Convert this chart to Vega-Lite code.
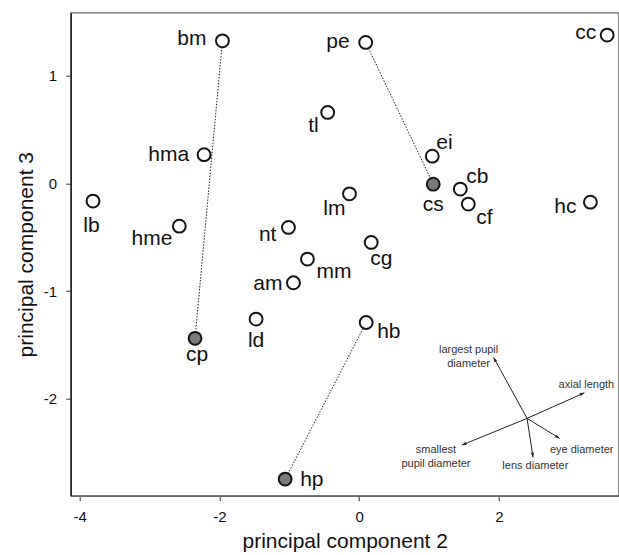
{
  "$schema": "https://vega.github.io/schema/vega-lite/v6.json",
  "width": 548,
  "height": 483,
  "autosize": {"type": "none"},
  "padding": {"left": 70.7, "top": 12.7, "right": 0.3, "bottom": 59.3},
  "background": "white",
  "config": {
    "font": "Liberation Sans",
    "view": {"stroke": "#666", "strokeWidth": 1.3},
    "axis": {
      "grid": false,
      "labelFont": "Liberation Sans",
      "titleFont": "Liberation Sans",
      "labelFontSize": 15,
      "titleFontSize": 21,
      "titleFontWeight": "normal",
      "labelColor": "#111",
      "titleColor": "#111",
      "tickColor": "#333",
      "tickSize": 5,
      "labelPadding": 9,
      "labelExpr": "'' + datum.value"
    },
    "axisX": {"domainColor": "#666", "domainWidth": 1.5, "titlePadding": 6},
    "axisY": {"domainColor": "#111", "domainWidth": 1.3, "titlePadding": 7}
  },
  "datasets": {
    "pts": [
      {"name": "bm", "pc2": -1.958, "pc3": 1.324, "set": "1", "pair": "A"},
      {"name": "pe", "pc2": 0.093, "pc3": 1.309, "set": "1", "pair": "B"},
      {"name": "cc", "pc2": 3.55, "pc3": 1.377, "set": "1"},
      {"name": "tl", "pc2": -0.451, "pc3": 0.659, "set": "1"},
      {"name": "hma", "pc2": -2.22, "pc3": 0.267, "set": "1"},
      {"name": "ei", "pc2": 1.046, "pc3": 0.253, "set": "1"},
      {"name": "cs", "pc2": 1.06, "pc3": -0.007, "set": "2", "pair": "B"},
      {"name": "cb", "pc2": 1.447, "pc3": -0.053, "set": "1"},
      {"name": "cf", "pc2": 1.562, "pc3": -0.192, "set": "1"},
      {"name": "hc", "pc2": 3.31, "pc3": -0.174, "set": "1"},
      {"name": "lb", "pc2": -3.811, "pc3": -0.164, "set": "1"},
      {"name": "lm", "pc2": -0.139, "pc3": -0.097, "set": "1"},
      {"name": "hme", "pc2": -2.575, "pc3": -0.397, "set": "1"},
      {"name": "nt", "pc2": -1.013, "pc3": -0.409, "set": "1"},
      {"name": "cg", "pc2": 0.172, "pc3": -0.548, "set": "1"},
      {"name": "mm", "pc2": -0.741, "pc3": -0.703, "set": "1"},
      {"name": "am", "pc2": -0.941, "pc3": -0.923, "set": "1"},
      {"name": "ld", "pc2": -1.476, "pc3": -1.26, "set": "1"},
      {"name": "hb", "pc2": 0.1, "pc3": -1.292, "set": "1", "pair": "C"},
      {"name": "cp", "pc2": -2.35, "pc3": -1.439, "set": "2", "pair": "A"},
      {"name": "hp", "pc2": -1.06, "pc3": -2.746, "set": "2", "pair": "C"}
    ],
    "arrows": [
      {"var": "axial length", "label": "axial length", "cx": 2.403, "cy": -2.182, "tx": 3.224, "ty": -1.945},
      {"var": "largest pupil diameter", "label": "largest pupil\ndiameter", "cx": 2.403, "cy": -2.182, "tx": 1.924, "ty": -1.616},
      {"var": "smallest pupil diameter", "label": "smallest\npupil diameter", "cx": 2.403, "cy": -2.182, "tx": 1.471, "ty": -2.43},
      {"var": "lens diameter", "label": "lens diameter", "cx": 2.403, "cy": -2.182, "tx": 2.489, "ty": -2.544},
      {"var": "eye diameter", "label": "eye diameter", "cx": 2.403, "cy": -2.182, "tx": 2.87, "ty": -2.368}
    ]
  },
  "layer": [
    {
      "data": {"name": "pts"},
      "transform": [{"filter": "isValid(datum.pair)"}],
      "mark": {"type": "line", "color": "#222", "strokeWidth": 1, "strokeDash": [1.5, 1.5]},
      "encoding": {
        "x": {"field": "pc2", "type": "quantitative", "title": "principal component 2", "scale": {"domain": [-4.13, 3.715], "nice": false, "zero": false}, "axis": {"values": [-4, -2, 0, 2]}},
        "y": {"field": "pc3", "type": "quantitative", "title": "principal component 3", "scale": {"domain": [-2.9, 1.585], "nice": false, "zero": false}, "axis": {"values": [-2, -1, 0, 1]}},
        "detail": {"field": "pair"}
      }
    },
    {
      "data": {"name": "arrows"},
      "mark": {"type": "rule", "color": "#222", "strokeWidth": 1},
      "encoding": {
        "x": {"field": "cx", "type": "quantitative", "title": "principal component 2", "scale": {"domain": [-4.13, 3.715], "nice": false, "zero": false}},
        "x2": {"field": "tx", "title": "principal component 2"},
        "y": {"field": "cy", "type": "quantitative", "title": "principal component 3", "scale": {"domain": [-2.9, 1.585], "nice": false, "zero": false}},
        "y2": {"field": "ty", "title": "principal component 3"}
      }
    },
    {
      "data": {"name": "arrows"},
      "encoding": {
        "x": {"field": "tx", "type": "quantitative", "title": "principal component 2", "scale": {"domain": [-4.13, 3.715], "nice": false, "zero": false}},
        "y": {"field": "ty", "type": "quantitative", "title": "principal component 3", "scale": {"domain": [-2.9, 1.585], "nice": false, "zero": false}},
        "text": {"field": "label"}
      },
      "layer": [
        {"transform": [{"filter": "datum.var == 'axial length'"}], "mark": {"type": "point", "shape": "M0,0L-0.45,1.3L0.45,1.3Z", "filled": true, "color": "#222", "opacity": 1, "size": 50, "angle": 67.9}},
        {"transform": [{"filter": "datum.var == 'largest pupil diameter'"}], "mark": {"type": "point", "shape": "M0,0L-0.45,1.3L0.45,1.3Z", "filled": true, "color": "#222", "opacity": 1, "size": 50, "angle": 331.3}},
        {"transform": [{"filter": "datum.var == 'smallest pupil diameter'"}], "mark": {"type": "point", "shape": "M0,0L-0.45,1.3L0.45,1.3Z", "filled": true, "color": "#222", "opacity": 1, "size": 50, "angle": 247.7}},
        {"transform": [{"filter": "datum.var == 'lens diameter'"}], "mark": {"type": "point", "shape": "M0,0L-0.45,1.3L0.45,1.3Z", "filled": true, "color": "#222", "opacity": 1, "size": 50, "angle": 171.3}},
        {"transform": [{"filter": "datum.var == 'eye diameter'"}], "mark": {"type": "point", "shape": "M0,0L-0.45,1.3L0.45,1.3Z", "filled": true, "color": "#222", "opacity": 1, "size": 50, "angle": 121.5}},
        {"transform": [{"filter": "datum.var == 'axial length'"}], "mark": {"type": "text", "fontSize": 11, "color": "#333", "align": "center", "baseline": "middle", "dx": 2, "dy": -7.5}},
        {"transform": [{"filter": "datum.var == 'largest pupil diameter'"}], "mark": {"type": "text", "fontSize": 11, "color": "#333", "align": "center", "baseline": "middle", "lineBreak": "\n", "lineHeight": 14, "dx": -25, "dy": -7.6}},
        {"transform": [{"filter": "datum.var == 'smallest pupil diameter'"}], "mark": {"type": "text", "fontSize": 11, "color": "#333", "align": "center", "baseline": "middle", "lineBreak": "\n", "lineHeight": 14, "dx": -26, "dy": 4.7}},
        {"transform": [{"filter": "datum.var == 'lens diameter'"}], "mark": {"type": "text", "fontSize": 11, "color": "#333", "align": "center", "baseline": "middle", "dx": 2.3, "dy": 8.5}},
        {"transform": [{"filter": "datum.var == 'eye diameter'"}], "mark": {"type": "text", "fontSize": 11, "color": "#333", "align": "center", "baseline": "middle", "dx": 22, "dy": 11.4}}
      ]
    },
    {
      "data": {"name": "pts"},
      "mark": {"type": "point", "filled": true, "opacity": 1, "stroke": "#151515", "strokeWidth": 2, "size": 165},
      "encoding": {
        "x": {"field": "pc2", "type": "quantitative", "title": "principal component 2", "scale": {"domain": [-4.13, 3.715], "nice": false, "zero": false}},
        "y": {"field": "pc3", "type": "quantitative", "title": "principal component 3", "scale": {"domain": [-2.9, 1.585], "nice": false, "zero": false}},
        "fill": {"field": "set", "type": "nominal", "scale": {"domain": ["1", "2"], "range": ["#ffffff", "#7a7a7a"]}, "legend": null}
      }
    },
    {
      "data": {"name": "pts"},
      "encoding": {
        "x": {"field": "pc2", "type": "quantitative", "title": "principal component 2", "scale": {"domain": [-4.13, 3.715], "nice": false, "zero": false}},
        "y": {"field": "pc3", "type": "quantitative", "title": "principal component 3", "scale": {"domain": [-2.9, 1.585], "nice": false, "zero": false}},
        "text": {"field": "name"}
      },
      "layer": [
        {"transform": [{"filter": "datum.name == 'bm'"}], "mark": {"type": "text", "fontSize": 21, "color": "#111", "baseline": "alphabetic", "align": "right", "dx": -16, "dy": 4}},
        {"transform": [{"filter": "datum.name == 'pe'"}], "mark": {"type": "text", "fontSize": 21, "color": "#111", "baseline": "alphabetic", "align": "right", "dx": -16, "dy": 6}},
        {"transform": [{"filter": "datum.name == 'cc'"}], "mark": {"type": "text", "fontSize": 21, "color": "#111", "baseline": "alphabetic", "align": "right", "dx": -11, "dy": 4}},
        {"transform": [{"filter": "datum.name == 'hma'"}], "mark": {"type": "text", "fontSize": 21, "color": "#111", "baseline": "alphabetic", "align": "right", "dx": -15, "dy": 6}},
        {"transform": [{"filter": "datum.name == 'am'"}], "mark": {"type": "text", "fontSize": 21, "color": "#111", "baseline": "alphabetic", "align": "right", "dx": -11, "dy": 7}},
        {"transform": [{"filter": "datum.name == 'hc'"}], "mark": {"type": "text", "fontSize": 21, "color": "#111", "baseline": "alphabetic", "align": "right", "dx": -14, "dy": 11}},
        {"transform": [{"filter": "datum.name == 'nt'"}], "mark": {"type": "text", "fontSize": 21, "color": "#111", "baseline": "alphabetic", "align": "right", "dx": -12, "dy": 14}},
        {"transform": [{"filter": "datum.name == 'hme'"}], "mark": {"type": "text", "fontSize": 21, "color": "#111", "baseline": "alphabetic", "align": "right", "dx": -7, "dy": 19}},
        {"transform": [{"filter": "datum.name == 'tl'"}], "mark": {"type": "text", "fontSize": 21, "color": "#111", "baseline": "alphabetic", "align": "right", "dx": -9, "dy": 20}},
        {"transform": [{"filter": "datum.name == 'lm'"}], "mark": {"type": "text", "fontSize": 21, "color": "#111", "baseline": "alphabetic", "align": "right", "dx": -4, "dy": 21}},
        {"transform": [{"filter": "datum.name == 'ei'"}], "mark": {"type": "text", "fontSize": 21, "color": "#111", "baseline": "alphabetic", "align": "left", "dx": 4, "dy": -7}},
        {"transform": [{"filter": "datum.name == 'cb'"}], "mark": {"type": "text", "fontSize": 21, "color": "#111", "baseline": "alphabetic", "align": "left", "dx": 6, "dy": -6}},
        {"transform": [{"filter": "datum.name == 'cf'"}], "mark": {"type": "text", "fontSize": 21, "color": "#111", "baseline": "alphabetic", "align": "left", "dx": 8, "dy": 20}},
        {"transform": [{"filter": "datum.name == 'cg'"}], "mark": {"type": "text", "fontSize": 21, "color": "#111", "baseline": "alphabetic", "align": "left", "dx": -1, "dy": 23}},
        {"transform": [{"filter": "datum.name == 'mm'"}], "mark": {"type": "text", "fontSize": 21, "color": "#111", "baseline": "alphabetic", "align": "left", "dx": 9, "dy": 19}},
        {"transform": [{"filter": "datum.name == 'hb'"}], "mark": {"type": "text", "fontSize": 21, "color": "#111", "baseline": "alphabetic", "align": "left", "dx": 11, "dy": 15}},
        {"transform": [{"filter": "datum.name == 'hp'"}], "mark": {"type": "text", "fontSize": 21, "color": "#111", "baseline": "alphabetic", "align": "left", "dx": 15, "dy": 7}},
        {"transform": [{"filter": "datum.name == 'lb'"}], "mark": {"type": "text", "fontSize": 21, "color": "#111", "baseline": "alphabetic", "align": "center", "dx": -1.5, "dy": 31}},
        {"transform": [{"filter": "datum.name == 'cs'"}], "mark": {"type": "text", "fontSize": 21, "color": "#111", "baseline": "alphabetic", "align": "center", "dx": 0, "dy": 27}},
        {"transform": [{"filter": "datum.name == 'ld'"}], "mark": {"type": "text", "fontSize": 21, "color": "#111", "baseline": "alphabetic", "align": "center", "dx": 0, "dy": 28}},
        {"transform": [{"filter": "datum.name == 'cp'"}], "mark": {"type": "text", "fontSize": 21, "color": "#111", "baseline": "alphabetic", "align": "center", "dx": 2, "dy": 23}}
      ]
    }
  ]
}
